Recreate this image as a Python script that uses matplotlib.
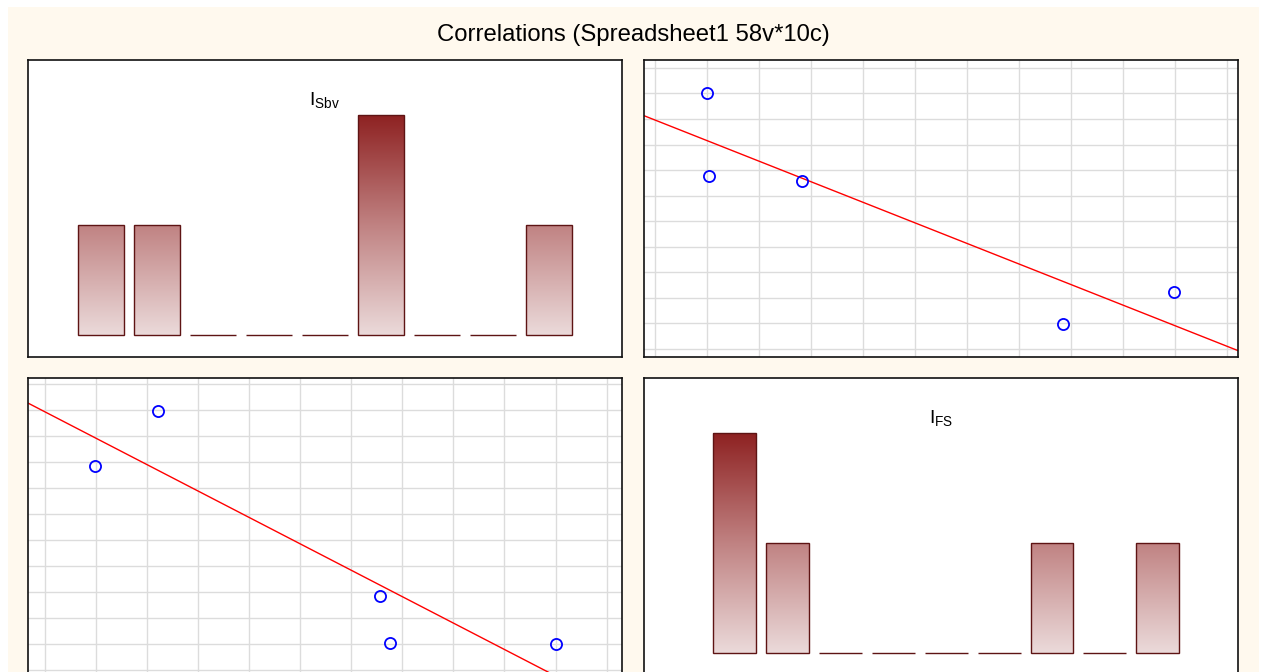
import numpy as np
import matplotlib.pyplot as plt
from matplotlib.patches import Rectangle
from matplotlib.colors import LinearSegmentedColormap

W, H = 1261, 672

# the two variables, 5 cases each
i_fs = np.array([1.00, 1.04, 2.83, 7.85, 9.98])
i_sbv = np.array([10.01, 6.76, 6.56, 0.99, 2.21])
n_bins = 9

title = 'Correlations (Spreadsheet1 58v*10c)'
label_sbv = r'$\mathregular{I_{Sbv}}$'
label_fs = r'$\mathregular{I_{FS}}$'

plt.rcParams['font.family'] = ['Liberation Sans', 'DejaVu Sans']
plt.rcParams['mathtext.fontset'] = 'custom'
plt.rcParams['mathtext.rm'] = 'Liberation Sans'

fig = plt.figure(figsize=(W / 100, H / 100), dpi=100, facecolor='white')
fig.patches.append(Rectangle((8 / W, 0), (1259 - 8) / W, 1 - 7 / H,
                             transform=fig.transFigure, facecolor='#FFF9EE',
                             edgecolor='none', zorder=-10))
fig.text(633.5 / W, 1 - 35 / H, title, ha='center', va='center', fontsize=17.2)


def box(x0, y0, w=594, h=297):
    return [x0 / W, 1 - (y0 + h) / H, w / W, h / H]


grad = LinearSegmentedColormap.from_list('grad', ['#EBDADA', '#C08282', '#8E2222'])


def frame(ax):
    for s in ax.spines.values():
        s.set_color('#111111')
        s.set_linewidth(1.2)


def hist_panel(ax, values, label, xlim):
    counts, _ = np.histogram(values, bins=n_bins)
    top = counts.max()
    for i, c in enumerate(counts):
        rect = Rectangle((i - 0.405, 0), 0.81, c, facecolor='none',
                         edgecolor='#5E1414', lw=1, zorder=3)
        ax.add_patch(rect)
        if c > 0:
            im = ax.imshow(np.linspace(0, 1, 256).reshape(-1, 1), cmap=grad,
                           origin='lower', aspect='auto',
                           extent=(i - 0.405, i + 0.405, 0, top), zorder=2)
            im.set_clip_path(rect)
    ax.set_xlim(*xlim)
    ax.set_ylim(-0.2, 2.5)
    ax.text(0.5, 0.865, label, transform=ax.transAxes, ha='center',
            va='center', fontsize=14)
    ax.set_xticks([])
    ax.set_yticks([])
    frame(ax)


def scatter_panel(ax, x, y, xlim, ylim):
    ax.set_xticks(range(12))
    ax.set_yticks(range(12))
    ax.tick_params(length=0, labelbottom=False, labelleft=False)
    ax.grid(True, color='#DCDCDC', lw=1)
    ax.set_axisbelow(True)
    slope, icpt = np.polyfit(x, y, 1)
    xs = np.array(xlim)
    ax.plot(xs, icpt + slope * xs, color='#FF0000', lw=1)
    ax.plot(x, y, 'o', mfc='none', mec='#0000FF', ms=8, mew=1.3)
    ax.set_xlim(*xlim)
    ax.set_ylim(*ylim)
    frame(ax)


ax1 = fig.add_axes(box(28, 60))
hist_panel(ax1, i_sbv, label_sbv, (-1.3, 9.3))

ax2 = fig.add_axes(box(644, 60))
scatter_panel(ax2, i_fs, i_sbv, (-0.204, 11.21), (-0.32, 11.31))

ax3 = fig.add_axes(box(28, 378))
scatter_panel(ax3, i_sbv, i_fs, (-0.325, 11.30), (-0.204, 11.24))

ax4 = fig.add_axes(box(644, 378))
hist_panel(ax4, i_fs, label_fs, (-1.72, 9.52))

fig.savefig('out.png', dpi=100, facecolor='white')
